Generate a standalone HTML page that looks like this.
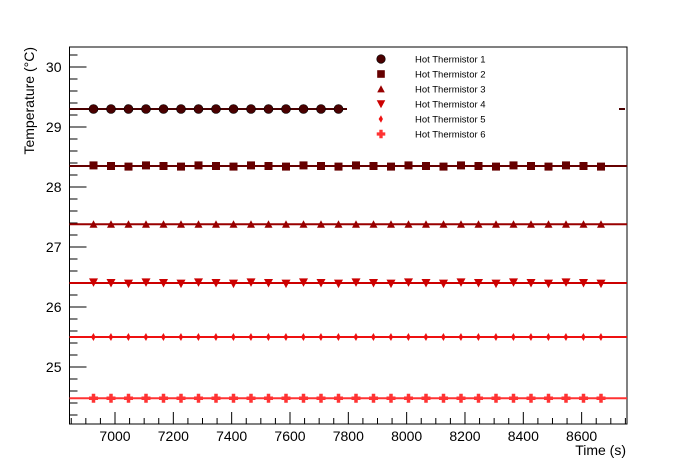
<!DOCTYPE html>
<html><head><meta charset="utf-8"><style>
html,body{margin:0;padding:0;background:#fff;}
svg{display:block;font-family:"Liberation Sans",Arial,sans-serif;}
</style></head><body>
<svg id="s" width="696" height="472" viewBox="0 0 696 472" xmlns="http://www.w3.org/2000/svg">
<rect width="696" height="472" fill="#fff"/>
</svg>
<script>
const s=document.getElementById('s');const NS='http://www.w3.org/2000/svg';
function el(t,a,txt){const e=document.createElementNS(NS,t);for(const k in a)e.setAttribute(k,a[k]);if(txt!==undefined)e.textContent=txt;s.appendChild(e);return e;}
const L=69.5,R=627,T=47,B=424;
const X=t=>115+(t-7000)*58.33/200, Y=v=>127-(v-29)*60;
// frame
el('rect',{x:L,y:T,width:R-L,height:B-T,fill:'none',stroke:'#000','stroke-width':1});
// y ticks
for(let v=24.2;v<=30.31;v+=0.2){const y=Y(v);const maj=Math.abs(v-Math.round(v))<0.01;
el('line',{x1:L,x2:L+(maj?17:8),y1:y,y2:y,stroke:'#000'});
if(maj)el('text',{x:L-8,y:y+5,'text-anchor':'end','font-size':14},Math.round(v));}
// x ticks
for(let t=6850;t<=8750;t+=50){const x=X(t);const maj=t%200==0;const mid=t%100==0;
el('line',{x1:x,x2:x,y1:B,y2:B-(maj?12:(mid?6:6)),stroke:'#000'});
if(maj)el('text',{x:x,y:B+17,'text-anchor':'middle','font-size':14},t);}
el('text',{x:626,y:455,'text-anchor':'end','font-size':14},'Time (s)');
el('text',{x:0,y:0,'text-anchor':'end','font-size':14,transform:'translate(34,47) rotate(-90)'},'Temperature (\u00B0C)');
const ser=[
{v:29.3,c:'#4a0000',n:15,m:'c',x2:347},
{v:28.35,c:'#660000',n:30,m:'s'},
{v:27.38,c:'#990000',n:30,m:'t'},
{v:26.4,c:'#cc0000',n:30,m:'d'},
{v:25.5,c:'#ee1111',n:30,m:'w'},
{v:24.48,c:'#ff3333',n:30,m:'p'}];
function mark(m,x,y,c,sz){sz=sz||1;
if(m=='c')el('circle',{cx:x,cy:y,r:4.5*sz,fill:c,stroke:'#000','stroke-width':0.6});
if(m=='s')el('rect',{x:x-4*sz,y:y-4*sz,width:8*sz,height:8*sz,fill:c});
if(m=='t')el('polygon',{points:`${x},${y-4*sz} ${x-4*sz},${y+3.5*sz} ${x+4*sz},${y+3.5*sz}`,fill:c});
if(m=='d')el('polygon',{points:`${x-4.5*sz},${y-4*sz} ${x+4.5*sz},${y-4*sz} ${x},${y+4.5*sz}`,fill:c});
if(m=='w')el('polygon',{points:`${x},${y-4*sz} ${x+2*sz},${y} ${x},${y+4*sz} ${x-2.5*sz},${y}`,fill:c});
if(m=='p')el('path',{d:`M${x-4.5*sz},${y}H${x+4.5*sz}M${x},${y-4.5*sz}V${y+4.5*sz}`,stroke:c,'stroke-width':3.5*sz});}
ser.forEach(o=>{const y=Y(o.v);
el('line',{x1:L,x2:o.x2||R,y1:y,y2:y,stroke:o.c,'stroke-width':2});
for(let i=0;i<o.n;i++){const x=93.5+i*17.5;const j=(o.m=='s'||o.m=='d')?((i*7)%3-1)*0.6:0;mark(o.m,x,y+j,o.c);}});
el('line',{x1:619,x2:625,y1:Y(29.3),y2:Y(29.3),stroke:'#4a0000','stroke-width':2});
// legend
const names=['Hot Thermistor 1','Hot Thermistor 2','Hot Thermistor 3','Hot Thermistor 4','Hot Thermistor 5','Hot Thermistor 6'];
ser.forEach((o,i)=>{const y=59+i*15;mark(o.m,381,y,o.c,0.95);
el('text',{x:415,y:y+3.5,'font-size':9.5},names[i]);});
</script>
</body></html>
